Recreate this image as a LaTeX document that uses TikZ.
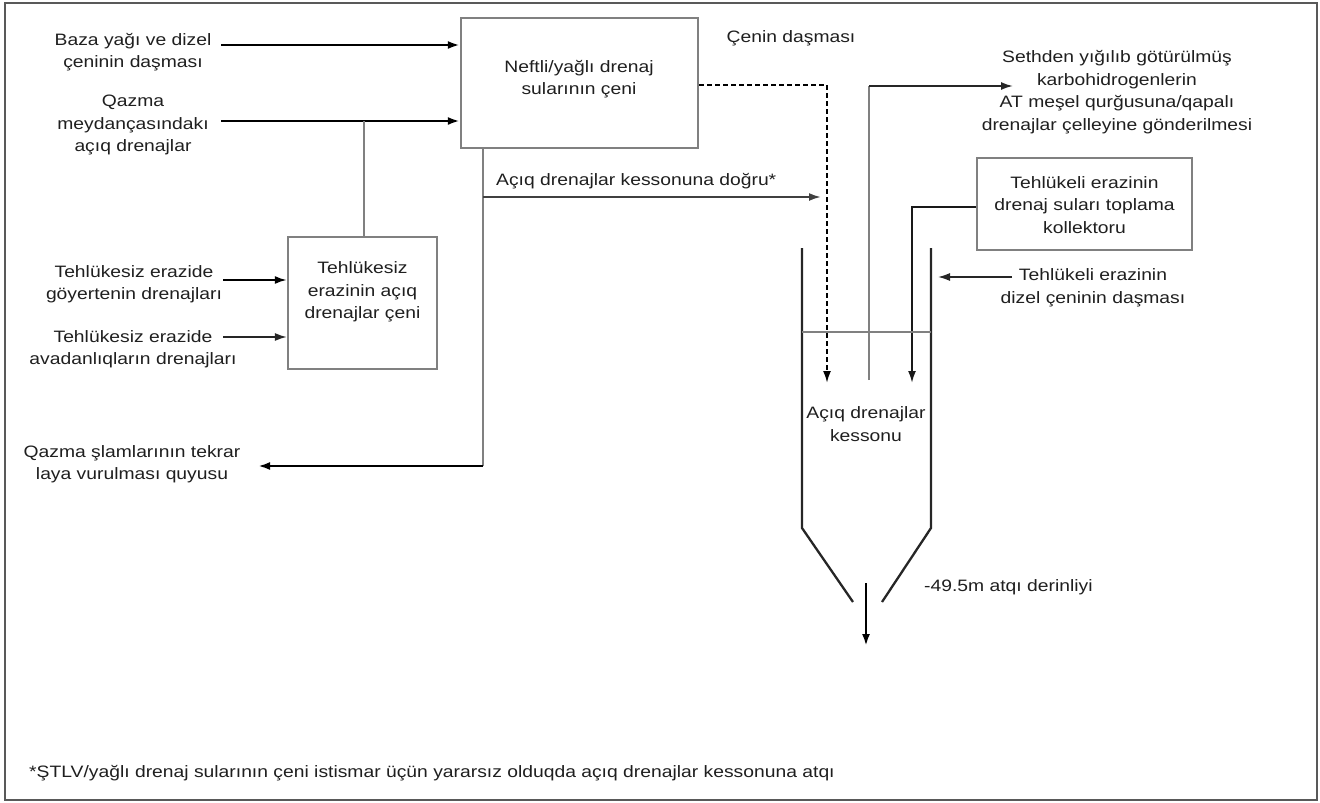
\documentclass[tikz,border=0pt]{standalone}
\usepackage{fontspec}
\setmainfont{Liberation Sans}[FakeStretch=1.17]
\usetikzlibrary{arrows.meta}
\begin{document}
\begin{tikzpicture}[x=1pt,y=-1pt,
  lbl/.style={align=center,font=\fontsize{16.5}{22.5}\selectfont,inner sep=0pt,text=black!88},
  box/.style={draw=black!50,line width=2.3pt,inner sep=0pt},
  arrtip/.style={-{Latex[length=12pt,width=8pt]}},
  arr/.style={arrtip,line width=2.5pt,black},
  thinarr/.style={arrtip,line width=1.6pt,black!85},
  grayline/.style={line width=2pt,black!50},
  thingray/.style={line width=1.4pt,black!50},
  dashline/.style={line width=2pt,dash pattern=on 5pt off 3pt},
  wall/.style={line width=2.3pt,black!85}
]
\useasboundingbox (0,0) rectangle (1320,803);
\draw[black!65,line width=2pt] (5,3) rectangle (1317,800);

% boxes
\node[box,minimum width=237pt,minimum height=130pt] (b1) at (579.5,83) {};
\node[lbl] (t1) at (579,79) {Neftli/yağlı drenaj\\sularının çeni};
\node[box,minimum width=149pt,minimum height=132pt] (b9) at (362.5,303) {};
\node[lbl] (t9) at (362.5,292) {Tehlükesiz\\erazinin açıq\\drenajlar çeni};
\node[box,minimum width=215pt,minimum height=92pt] (b7) at (1084.5,204) {};
\node[lbl] (t7) at (1084.5,205) {Tehlükeli erazinin\\drenaj suları toplama\\kollektoru};

% labels
\node[lbl] (l1) at (133,52) {Baza yağı ve dizel\\çeninin daşması};
\node[lbl] (l2) at (133,125) {Qazma\\meydançasındakı\\açıq drenajlar};
\node[lbl] (l3) at (134,284) {Tehlükesiz erazide\\göyertenin drenajları};
\node[lbl] (l4) at (133,349) {Tehlükesiz erazide\\avadanlıqların drenajları};
\node[lbl] (l5) at (132,464) {Qazma şlamlarının tekrar\\laya vurulması quyusu};
\node[lbl] (l6) at (791,38) {Çenin daşması};
\node[lbl,anchor=west] (l7) at (496,181) {Açıq drenajlar kessonuna doğru*};
\node[lbl] (l8) at (1117,92) {Sethden yığılıb götürülmüş\\karbohidrogenlerin\\AT meşel qurğusuna/qapalı\\drenajlar çelleyine gönderilmesi};
\node[lbl] (l9) at (1093,288) {Tehlükeli erazinin\\dizel çeninin daşması};
\node[lbl] (l10) at (866,424) {Açıq drenajlar\\kessonu};
\node[lbl,anchor=west] (l11) at (924,587) {-49.5m atqı derinliyi};
\node[lbl,anchor=west] (l12) at (29,773) {*ŞTLV/yağlı drenaj sularının çeni istismar üçün yararsız olduqda açıq drenajlar kessonuna atqı};

% coordinates
\coordinate (s1) at (221,45);
\coordinate (s2) at (221,121);
\coordinate (j2) at (364,121);
\coordinate (s3) at (223,280);
\coordinate (s4) at (223,337);
\coordinate (v1) at (483,148);
\coordinate (v2) at (483,466);
\coordinate (e5) at (258,466);
\coordinate (v3) at (483,197);
\coordinate (e6) at (821,197);
\coordinate (d1) at (827,85);
\coordinate (d2) at (827,383);
\coordinate (g1) at (869,380);
\coordinate (g2) at (869,86);
\coordinate (g3) at (1013,86);
\coordinate (k1) at (912,207);
\coordinate (k2) at (912,383);
\coordinate (h1) at (1012,277);
\coordinate (h2) at (938,277);
\coordinate (q1) at (866,583);
\coordinate (q2) at (866,646);
% caisson
\coordinate (cl1) at (802,248);
\coordinate (cl2) at (802,528);
\coordinate (cl3) at (853,602);
\coordinate (cr1) at (931,248);
\coordinate (cr2) at (931,528);
\coordinate (cr3) at (882,602);

% connectors
\draw[arr] (s1) -- (b1.west |- s1);
\draw[arr] (s2) -- (b1.west |- s2);
\draw[grayline] (j2) -- (j2 |- b9.north);
\draw[arr,line width=2pt] (s3) -- (b9.west |- s3);
\draw[thinarr] (s4) -- (b9.west |- s4);
\draw[grayline] (b1.south -| v1) -- (v2);
\draw[arr] (v2) -- (e5);
\draw[arrtip,line width=2pt,black!75] (v3) -- (e6);
\draw[dashline,arrtip] (b1.east |- d1) -- (d1) -- (d2);
\draw[thingray] (g1) -- (g2);
\draw[arrtip,line width=1.8pt,black!85] (g2) -- (g3);
\draw[arrtip,line width=2pt,black!90] (b7.west |- k1) -- (k1) -- (k2);
\draw[thinarr] (h1) -- (h2);
\draw[arr] (q1) -- (q2);

% caisson
\draw[wall] (cl1) -- (cl2) -- (cl3);
\draw[wall] (cr1) -- (cr2) -- (cr3);
\draw[thingray,line width=1.8pt] (802,332) -- (931,332);
\end{tikzpicture}
\end{document}
